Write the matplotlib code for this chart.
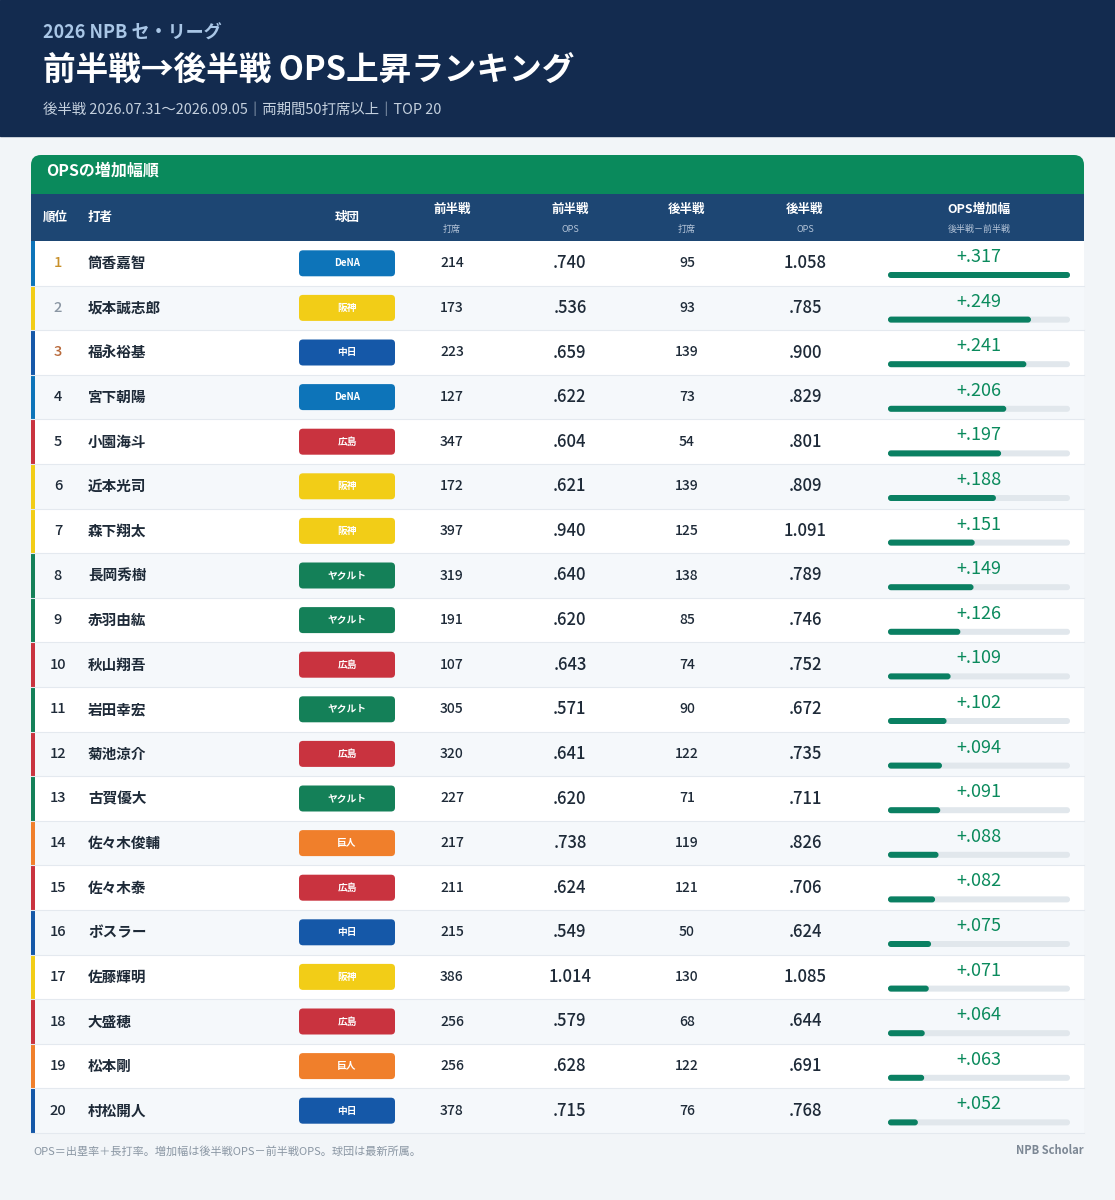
import matplotlib
matplotlib.use("Agg")
import matplotlib.pyplot as plt
from matplotlib.patches import Rectangle, FancyBboxPatch

plt.rcParams['font.family'] = ['Noto Sans CJK JP', 'DejaVu Sans']

# data
names = ["筒香嘉智", "坂本誠志郎", "福永裕基", "宮下朝陽", "小園海斗", "近本光司", "森下翔太",
         "長岡秀樹", "赤羽由紘", "秋山翔吾", "岩田幸宏", "菊池涼介", "古賀優大", "佐々木俊輔",
         "佐々木泰", "ボスラー", "佐藤輝明", "大盛穂", "松本剛", "村松開人"]
teams = ["DeNA", "阪神", "中日", "DeNA", "広島", "阪神", "阪神", "ヤクルト", "ヤクルト", "広島",
         "ヤクルト", "広島", "ヤクルト", "巨人", "広島", "中日", "阪神", "広島", "巨人", "中日"]
pa_first = [214, 173, 223, 127, 347, 172, 397, 319, 191, 107, 305, 320, 227, 217, 211, 215, 386, 256, 256, 378]
ops_first = [.740, .536, .659, .622, .604, .621, .940, .640, .620, .643, .571, .641, .620, .738, .624, .549, 1.014, .579, .628, .715]
pa_second = [95, 93, 139, 73, 54, 139, 125, 138, 85, 74, 90, 122, 71, 119, 121, 50, 130, 68, 122, 76]
ops_second = [1.058, .785, .900, .829, .801, .809, 1.091, .789, .746, .752, .672, .735, .711, .826, .706, .624, 1.085, .644, .691, .768]
ops_diff = [.317, .249, .241, .206, .197, .188, .151, .149, .126, .109, .102, .094, .091, .088, .082, .075, .071, .064, .063, .052]

team_colors = {"DeNA": "#0d74b9", "阪神": "#f2cd17", "中日": "#1558a8", "広島": "#c9333f",
               "ヤクルト": "#148058", "巨人": "#f07f2b"}
rank_colors = {1: "#c8902a", 2: "#8a96a3", 3: "#b8693a"}


def fmt(v):
    s = f"{v:.3f}"
    return s[1:] if s.startswith("0") else s


W, H = 1115, 1200
fig = plt.figure(figsize=(W / 100, H / 100), dpi=100, facecolor="#f2f5f8")
ax = fig.add_axes([0, 0, 1, 1])
ax.set_xlim(0, W)
ax.set_ylim(H, 0)
ax.axis("off")

# header
ax.add_patch(Rectangle((0, 0), W, 136, color="#132b4f"))
ax.text(43, 33, "2026 NPB セ・リーグ", color="#a9c6e6", fontsize=13, fontweight="bold", va="center")
ax.text(43, 70, "前半戦→後半戦 OPS上昇ランキング", color="white", fontsize=23.5, fontweight="bold", va="center")
ax.text(43, 110, "後半戦 2026.07.31〜2026.09.05｜両期間50打席以上｜TOP 20", color="#c4d0de",
        fontsize=10.4, va="center")

# card
L, R = 31, 1084
ax.add_patch(FancyBboxPatch((L, 155), R - L, 60, boxstyle="round,pad=0,rounding_size=10",
                            color="#0a8a5c", lw=0))
ax.text(46, 171, "OPSの増加幅順", color="white", fontsize=11.5, fontweight="bold", va="center")
ax.add_patch(Rectangle((L, 194), R - L, 47, color="#1d4673", lw=0))

cols = [("順位", None, 43, "left"), ("打者", None, 88, "left"), ("球団", None, 347, "center"),
        ("前半戦", "打席", 452, "center"), ("前半戦", "OPS", 570, "center"),
        ("後半戦", "打席", 687, "center"), ("後半戦", "OPS", 805, "center"),
        ("OPS増加幅", "後半戦－前半戦", 979, "center")]
for top, sub, x, ha in cols:
    if sub is None:
        ax.text(x, 217, top, color="white", fontsize=9, fontweight="bold", va="center", ha=ha)
    else:
        ax.text(x, 209, top, color="white", fontsize=9, fontweight="bold", va="center", ha=ha)
        ax.text(x, 229, sub, color="#b4c4d8", fontsize=6.5, va="center", ha=ha)

y0, rh = 241, 44.6
bx0, bw = 888, 182
vmax = max(ops_diff)
for i in range(len(names)):
    top = y0 + i * rh
    yc = top + rh / 2
    ax.add_patch(Rectangle((L, top), R - L, rh, color="white" if i % 2 == 0 else "#f5f8fb", lw=0))
    ax.plot([L, R], [top + rh, top + rh], color="#e4e9ef", lw=0.8)
    ax.add_patch(Rectangle((L, top), 4, rh, color=team_colors[teams[i]], lw=0))
    rank = i + 1
    ax.text(58, yc, str(rank), ha="center", va="center", fontsize=10.5, fontweight="medium",
            color=rank_colors.get(rank, "#1e2a38"))
    ax.text(88, yc, names[i], ha="left", va="center", fontsize=10.5, fontweight="bold", color="#1e2a38")
    ax.add_patch(FancyBboxPatch((299, yc - 13), 96, 26, boxstyle="round,pad=0,rounding_size=4",
                                color=team_colors[teams[i]], lw=0))
    ax.text(347, yc, teams[i], ha="center", va="center", fontsize=7, fontweight="bold", color="white")
    ax.text(452, yc, str(pa_first[i]), ha="center", va="center", fontsize=10, fontweight="medium", color="#1e2a38")
    ax.text(570, yc, fmt(ops_first[i]), ha="center", va="center", fontsize=12, fontweight="medium", color="#1e2a38")
    ax.text(687, yc, str(pa_second[i]), ha="center", va="center", fontsize=10, fontweight="medium", color="#1e2a38")
    ax.text(805, yc, fmt(ops_second[i]), ha="center", va="center", fontsize=12, fontweight="medium", color="#1e2a38")
    ax.text(979, top + 16, "+" + fmt(ops_diff[i]), ha="center", va="center", fontsize=13, color="#0a8a5c")
    ax.add_patch(FancyBboxPatch((bx0, top + 31), bw, 6, boxstyle="round,pad=0,rounding_size=3",
                                color="#e1e7ec", lw=0))
    ax.add_patch(FancyBboxPatch((bx0, top + 31), bw * ops_diff[i] / vmax, 6,
                                boxstyle="round,pad=0,rounding_size=3", color="#0a8062", lw=0))

ax.text(33, 1151, "OPS＝出塁率＋長打率。増加幅は後半戦OPS－前半戦OPS。球団は最新所属。",
        fontsize=8, color="#8a96a3", va="center")
ax.text(1084, 1151, "NPB Scholar", fontsize=8, color="#7c8794", fontweight="bold", va="center", ha="right")

fig.savefig("out.png", dpi=100, facecolor=fig.get_facecolor())
